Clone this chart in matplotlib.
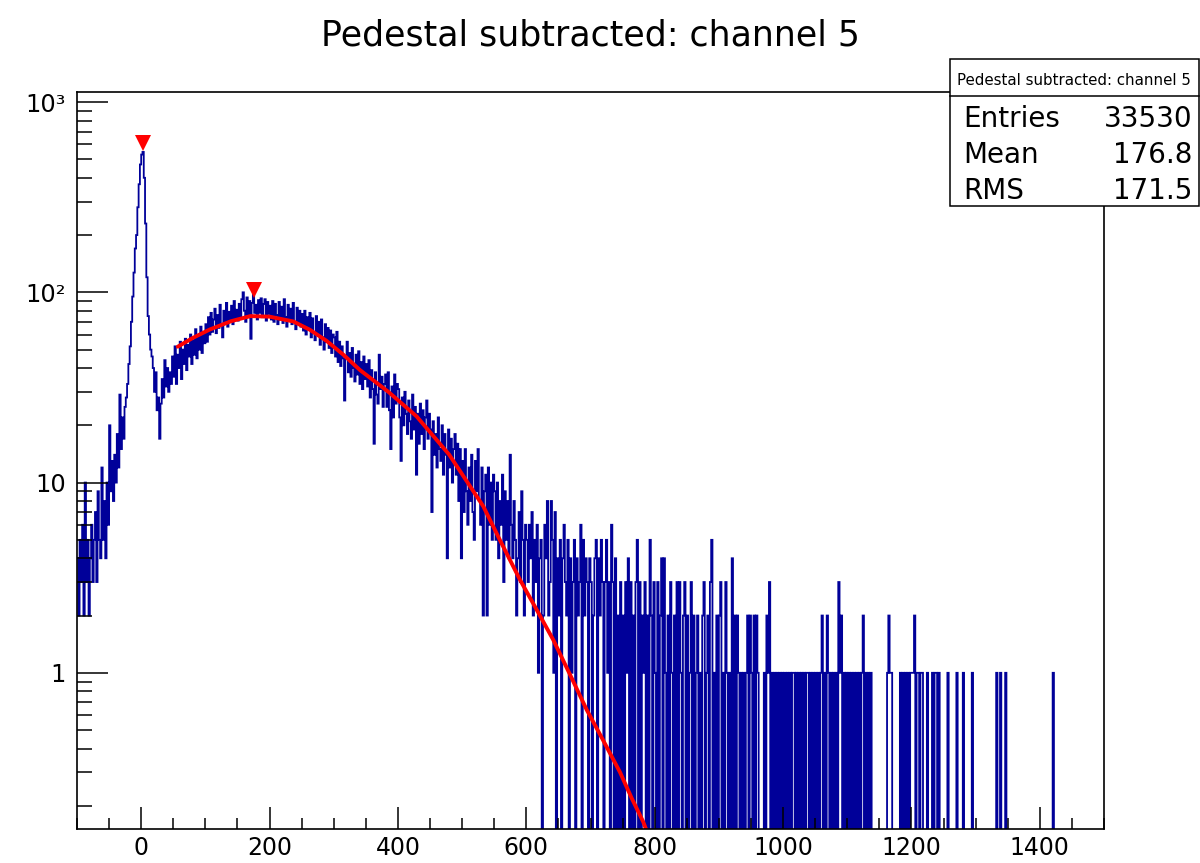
import numpy as np
import matplotlib
matplotlib.use("Agg")
import matplotlib.pyplot as plt
from matplotlib.patches import Rectangle
from matplotlib.lines import Line2D
from matplotlib.ticker import MultipleLocator, FixedLocator, LogLocator, NullFormatter

plt.rcParams['font.family'] = ['DejaVu Sans']

# binning of the histogram (2 units per bin)
bin_lo, bin_hi, bin_w = -100, 1500, 2

# bin contents, one row = 50 units
counts_pedestal = [
    4, 2, 5, 3, 6, 2, 10, 3, 5, 2, 4, 6, 3, 5, 7, 3, 9, 5, 4, 12, 5, 8, 4, 10, 6,          # -100
    20, 9, 13, 8, 14, 10, 18, 12, 29, 15, 22, 17, 25, 28, 33, 42, 52, 70, 95, 127, 170, 200, 280, 370, 470,  # -50
    530, 547, 400, 230, 120, 75, 60, 50, 46, 40, 30, 38, 24, 28, 17, 26, 35, 28, 44, 32, 40, 30, 38, 33, 46,  # 0
]
counts_body = [
    36, 52, 33, 47, 40, 55, 35, 50, 42, 57, 39, 53, 46, 60, 42, 56, 47, 64, 45, 59, 50, 66, 48, 62, 54,   # 50
    68, 55, 74, 60, 78, 62, 72, 82, 61, 76, 65, 86, 68, 58, 80, 69, 88, 66, 79, 70, 85, 68, 90, 72, 81,   # 100
    71, 87, 75, 92, 100, 80, 70, 94, 74, 90, 57, 88, 97, 78, 86, 72, 91, 78, 93, 74, 87, 92, 71, 89, 77,  # 150
    85, 72, 90, 70, 87, 76, 68, 89, 72, 84, 69, 92, 74, 66, 86, 71, 82, 68, 88, 70, 64, 83, 69, 80, 66,   # 200
    77, 63, 80, 60, 74, 65, 78, 58, 73, 61, 56, 75, 60, 70, 53, 72, 58, 50, 68, 55, 65, 51, 63, 48, 60,   # 250
    58, 46, 62, 43, 55, 41, 52, 45, 27, 46, 55, 38, 48, 36, 51, 40, 34, 47, 37, 49, 33, 43, 31, 46, 35,   # 300
    42, 32, 44, 28, 39, 31, 16, 38, 29, 26, 47, 31, 36, 25, 33, 37, 25, 38, 24, 15, 32, 22, 37, 26, 33,   # 350
    31, 22, 13, 28, 20, 30, 23, 18, 27, 21, 17, 29, 19, 25, 11, 23, 16, 26, 18, 24, 15, 22, 27, 17, 23,   # 400
    19, 7, 21, 14, 18, 12, 22, 15, 13, 20, 11, 18, 14, 4, 19, 12, 17, 10, 15, 18, 11, 16, 8, 15, 4,       # 450
    13, 7, 15, 9, 6, 12, 8, 14, 7, 5, 13, 9, 15, 8, 6, 12, 2, 9, 11, 2, 12, 6, 10, 5, 11,                 # 500
    9, 5, 10, 4, 8, 6, 11, 3, 9, 5, 8, 4, 14, 6, 4, 8, 5, 2, 4, 7, 3, 9, 5, 2, 6,                         # 550
]
counts_tail = [
    5, 3, 6, 4, 7, 2, 5, 3, 6, 1, 4, 5, 0, 2, 6, 4, 8, 2, 3, 8, 5, 1, 7, 0, 4,   # 600
    2, 5, 0, 4, 6, 3, 2, 5, 0, 4, 1, 3, 5, 0, 4, 2, 3, 6, 0, 5, 2, 4, 3, 0, 4,   # 650
    3, 0, 2, 4, 5, 0, 4, 2, 5, 3, 0, 3, 5, 1, 3, 0, 6, 3, 0, 4, 0, 2, 0, 3, 0,   # 700
    2, 0, 3, 1, 4, 0, 3, 0, 2, 0, 3, 5, 0, 3, 0, 2, 1, 3, 0, 2, 0, 5, 2, 0, 3,   # 750
    1, 0, 3, 0, 2, 4, 0, 4, 1, 0, 2, 0, 3, 1, 0, 2, 0, 3, 0, 3, 1, 0, 2, 3, 0,   # 800
    2, 0, 1, 3, 0, 2, 0, 1, 2, 0, 1, 0, 2, 3, 0, 1, 2, 0, 3, 5, 0, 1, 0, 2, 0,   # 850
    2, 3, 0, 1, 0, 3, 1, 0, 1, 0, 4, 0, 2, 0, 2, 1, 0, 1, 0, 1, 0, 1, 2, 0, 2,   # 900
    1, 0, 2, 0, 2, 1, 0, 0, 0, 0, 1, 0, 2, 1, 3, 0, 1, 0, 1, 0, 1, 0, 1, 0, 1,   # 950
    0, 1, 0, 1, 0, 1, 0, 1, 1, 0, 1, 0, 1, 0, 1, 0, 1, 0, 1, 1, 0, 1, 0, 1, 0,   # 1000
    1, 0, 1, 0, 1, 2, 0, 1, 0, 2, 1, 0, 1, 0, 1, 0, 1, 0, 3, 1, 2, 0, 1, 0, 1,   # 1050
    0, 1, 0, 1, 0, 1, 0, 1, 0, 1, 0, 1, 2, 0, 1, 0, 1, 0, 1, 0, 0, 0, 0, 0, 0,   # 1100
    0, 0, 0, 0, 0, 0, 1, 2, 1, 1, 0, 0, 0, 0, 0, 0, 1, 0, 1, 0, 1, 0, 1, 0, 1,   # 1150
    1, 1, 2, 0, 1, 1, 0, 1, 1, 0, 0, 0, 1, 0, 0, 0, 1, 0, 1, 1, 0, 1, 0, 0, 0,   # 1200
    0, 0, 0, 1, 0, 0, 0, 0, 0, 0, 1, 0, 0, 0, 0, 1, 0, 0, 0, 0, 0, 0, 1, 0, 0,   # 1250
    0, 0, 0, 0, 0, 0, 0, 0, 0, 0, 0, 0, 0, 0, 0, 0, 1, 0, 0, 1, 0, 0, 0, 1, 0,   # 1300
    0, 0, 0, 0, 0, 0, 0, 0, 0, 0, 0, 0, 0, 0, 0, 0, 0, 0, 0, 0, 0, 0, 0, 0, 0,   # 1350
    0, 0, 0, 0, 0, 0, 0, 0, 0, 0, 1, 0, 0, 0, 0, 0, 0, 0, 0, 0, 0, 0, 0, 0, 0,   # 1400
    0, 0, 0, 0, 0, 0, 0, 0, 0, 0, 0, 0, 0, 0, 0, 0, 0, 0, 0, 0, 0, 0, 0, 0, 0,   # 1450
]

# fitted curve
fit_x = [57, 80, 107, 140, 170, 200, 237, 263, 289, 315, 341, 385, 429, 480, 533,
         560, 590, 616, 642, 668, 694, 720, 746, 764, 782, 798]
fit_y = [51.8, 57.5, 63.8, 70.5, 75, 74.5, 70.3, 63.5, 55.5, 47, 39, 30, 22.3, 14, 7.5,
         4.9, 3.09, 2.15, 1.49, 0.98, 0.64, 0.44, 0.30, 0.22, 0.165, 0.12]

# peak markers
peak_x = [2.5, 175]
peak_y = [608, 103]

# stats box
title = "Pedestal subtracted: channel 5"
stat_names = ["Entries", "Mean", "RMS"]
stat_values = ["33530", "176.8", "171.5"]

counts = np.array(counts_pedestal + counts_body + counts_tail, dtype=float)
edges = np.arange(bin_lo, bin_hi + bin_w, bin_w)

W, H = 1200, 863
fig = plt.figure(figsize=(W / 100, H / 100), dpi=100)
ax = fig.add_axes([77 / W, (H - 829) / H, (1104 - 77) / W, (829 - 92) / H])
ax.set_yscale('log', nonpositive='clip')

ax.stairs(counts, edges, baseline=None, color='#000099', lw=1.3)
ax.plot(fit_x, fit_y, color='#ff0000', lw=2.8, solid_capstyle='round', solid_joinstyle='round')
ax.plot(peak_x, peak_y, 'v', color='#ff0000', ms=11, markeredgewidth=0)

ax.set_xlim(bin_lo, bin_hi)
ax.set_ylim(0.151, 1130)

ax.xaxis.set_major_locator(MultipleLocator(200))
ax.xaxis.set_minor_locator(MultipleLocator(50))
ax.yaxis.set_major_locator(FixedLocator([1, 10, 100, 1000]))
ax.set_yticklabels(['1', '10', '10²', '10³'])
ax.yaxis.set_minor_locator(LogLocator(base=10, subs=np.arange(2, 10), numticks=20))
ax.yaxis.set_minor_formatter(NullFormatter())

ax.tick_params(which='both', direction='in', top=False, right=False, width=1.1, color='black')
ax.tick_params(axis='y', which='major', length=22, pad=8, labelsize=17.4)
ax.tick_params(axis='y', which='minor', length=11)
ax.tick_params(axis='x', which='major', length=16, pad=5, labelsize=17)
ax.tick_params(axis='x', which='minor', length=8)
for s in ax.spines.values():
    s.set_linewidth(1.2)

fig.text(590.5 / W, 1 - 45 / H, title, ha='center', va='baseline', fontsize=25)

# stats box drawn over the frame
box = Rectangle((950 / W, 1 - 206 / H), (1199 - 950) / W, (206 - 59) / H,
                transform=fig.transFigure, facecolor='white', edgecolor='black',
                lw=1.1, zorder=10)
fig.add_artist(box)
fig.add_artist(Line2D([950 / W, 1199 / W], [1 - 96 / H, 1 - 96 / H],
                      transform=fig.transFigure, color='black', lw=1.1, zorder=11))
fig.text(1074 / W, 1 - 85 / H, title, ha='center', va='baseline', fontsize=10.8, zorder=12)
for i, (n, v) in enumerate(zip(stat_names, stat_values)):
    yb = 1 - (127 + 35.8 * i) / H
    fig.text(963 / W, yb, n, ha='left', va='baseline', fontsize=20, zorder=12)
    fig.text(1192 / W, yb, v, ha='right', va='baseline', fontsize=20, zorder=12)

fig.savefig('out.png', dpi=100)
